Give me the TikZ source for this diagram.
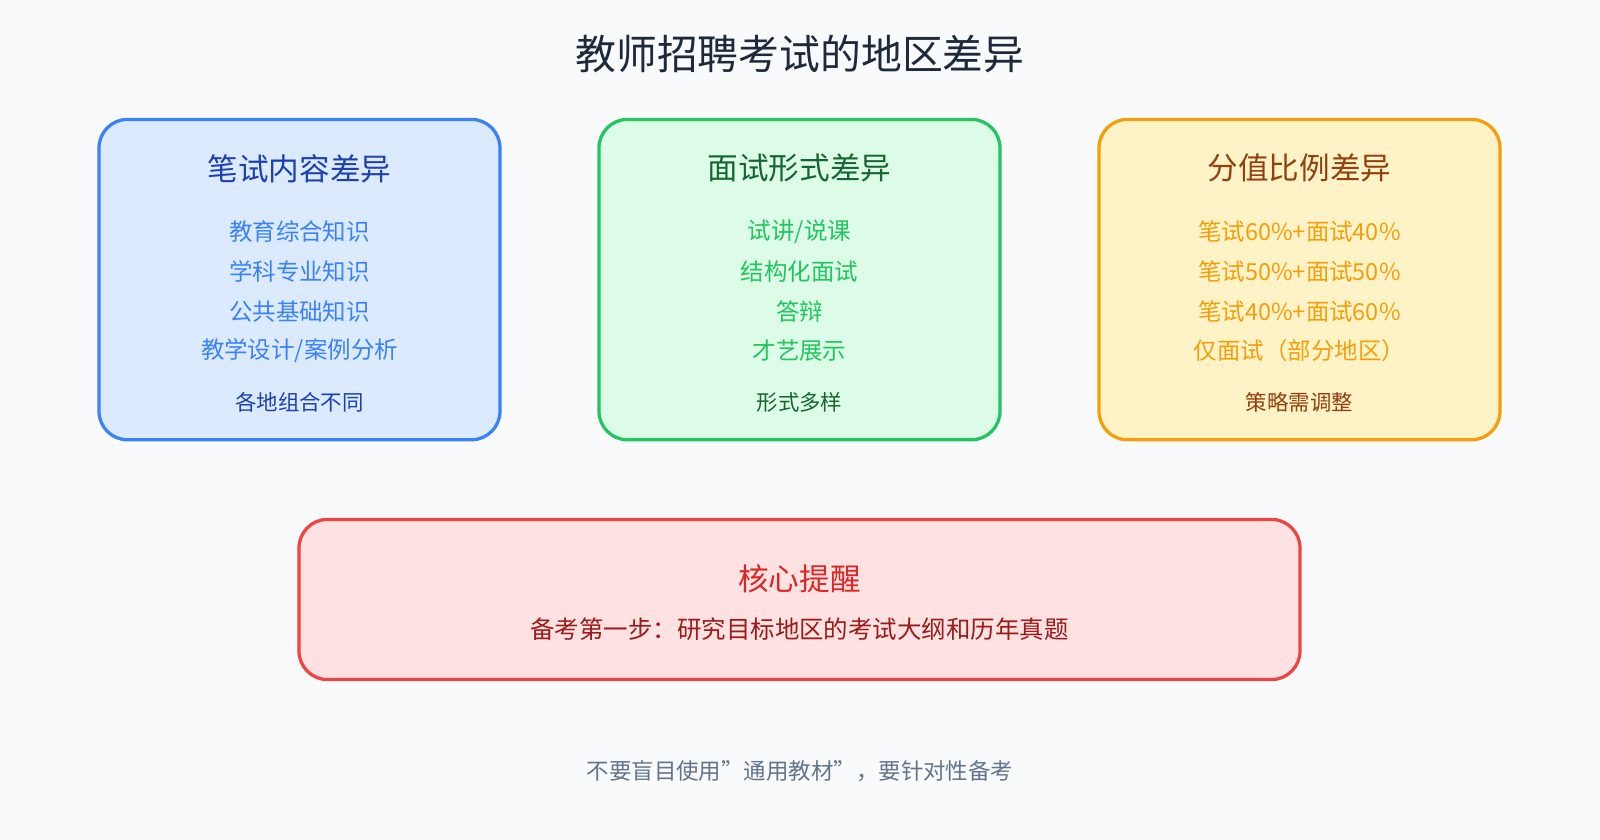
\documentclass[tikz,border=0pt]{standalone}
\usepackage{fontspec}
\setmainfont{Noto Sans CJK SC}
\definecolor{bgc}{HTML}{F8FAFC}
\definecolor{blueb}{HTML}{3B82F6}\definecolor{bluef}{HTML}{DBEAFE}\definecolor{bluet}{HTML}{1E40AF}
\definecolor{greenb}{HTML}{22C55E}\definecolor{greenf}{HTML}{DCFCE7}\definecolor{greent}{HTML}{166534}
\definecolor{orangeb}{HTML}{F59E0B}\definecolor{orangef}{HTML}{FEF3C7}\definecolor{oranget}{HTML}{92400E}
\definecolor{redb}{HTML}{EF4444}\definecolor{redf}{HTML}{FEE2E2}\definecolor{redt}{HTML}{DC2626}\definecolor{redd}{HTML}{991B1B}
\definecolor{titlec}{HTML}{1E293B}\definecolor{grayt}{HTML}{64748B}
\tikzset{
  card/.style={rounded corners=14pt, line width=1.6pt},
  head/.style={font=\fontsize{15}{18}\selectfont},
  item/.style={font=\fontsize{11.5}{14}\selectfont},
  note/.style={font=\fontsize{10.5}{13}\selectfont}
}
\begin{document}
\begin{tikzpicture}[x=0.5pt,y=-0.5pt]
\fill[bgc] (0,0) rectangle (1568,823);
\useasboundingbox (0,0) rectangle (1568,823);

\node[text=titlec, font=\fontsize{20}{24}\selectfont] (title) at (784,53) {教师招聘考试的地区差异};

% written exam
\draw[card, draw=blueb, fill=bluef] (97,117) rectangle (490,431);
\node[head, text=bluet] (wh) at (293.5,165) {笔试内容差异};
\node[item, text=blueb] (w1) at (293.5,227) {教育综合知识};
\node[item, text=blueb] (w2) at (293.5,266) {学科专业知识};
\node[item, text=blueb] (w3) at (293.5,305) {公共基础知识};
\node[item, text=blueb] (w4) at (293.5,344) {教学设计/案例分析};
\node[note, text=bluet] (wn) at (293.5,394) {各地组合不同};

% interview
\draw[card, draw=greenb, fill=greenf] (587,117) rectangle (980,431);
\node[head, text=greent] (ih) at (783.5,165) {面试形式差异};
\node[item, text=greenb] (i1) at (783.5,227) {试讲/说课};
\node[item, text=greenb] (i2) at (783.5,266) {结构化面试};
\node[item, text=greenb] (i3) at (783.5,305) {答辩};
\node[item, text=greenb] (i4) at (783.5,344) {才艺展示};
\node[note, text=greent] (in) at (783.5,394) {形式多样};

% score ratio
\draw[card, draw=orangeb, fill=orangef] (1077,117) rectangle (1470,431);
\node[head, text=oranget] (sh) at (1273.5,165) {分值比例差异};
\node[item, text=orangeb] (s1) at (1273.5,227) {笔试60\%+面试40\%};
\node[item, text=orangeb] (s2) at (1273.5,266) {笔试50\%+面试50\%};
\node[item, text=orangeb] (s3) at (1273.5,305) {笔试40\%+面试60\%};
\node[item, text=orangeb] (s4) at (1273.5,344) {仅面试（部分地区）};
\node[note, text=oranget] (sn) at (1273.5,394) {策略需调整};

% reminder
\draw[card, draw=redb, fill=redf] (293,509) rectangle (1274,666);
\node[head, text=redt] (rh) at (783.5,567) {核心提醒};
\node[font=\fontsize{12}{15}\selectfont, text=redd] (rt) at (783.5,617) {备考第一步：研究目标地区的考试大纲和历年真题};

\node[font=\fontsize{11}{14}\selectfont, text=grayt] (foot) at (784,756) {不要盲目使用"通用教材"，要针对性备考};
\end{tikzpicture}
\end{document}
